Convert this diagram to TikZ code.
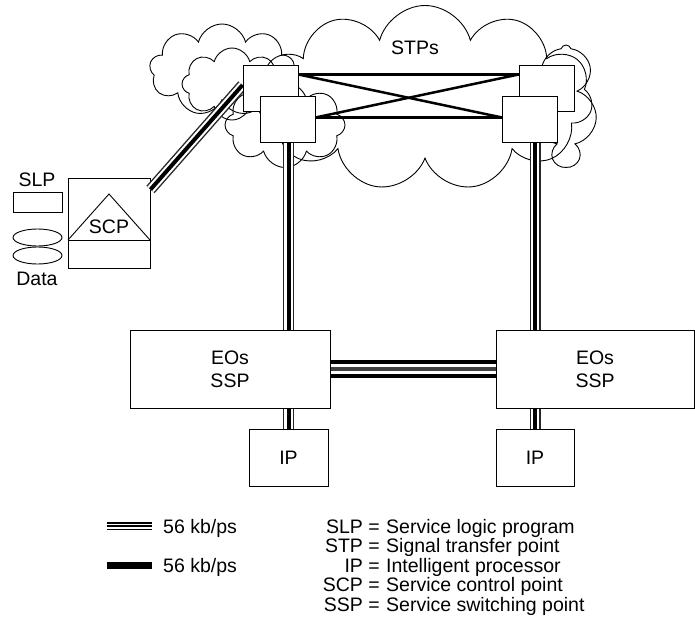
\documentclass[tikz,border=0pt]{standalone}
\usepackage{fontspec}
\setmainfont{Liberation Sans}
\usetikzlibrary{shapes.symbols,shapes.geometric}

\tikzset{
  lbl/.style={inner sep=0pt, font=\fontsize{19.5}{23}\selectfont, align=center},
  box/.style={draw, line width=1pt, fill=white, inner sep=0pt},
  stpbox/.style={box, minimum width=55pt, minimum height=46pt},
  puff/.style={cloud, draw, line width=0.9pt, inner sep=0pt, cloud ignores aspect},
  % signalling link: thin outer rails with a heavy core
  trunk/.style={draw=black!85, line width=11pt,
    postaction={draw=white, line width=8.2pt},
    postaction={draw=black, line width=4pt}},
  % trunk between the two end offices
  eolink/.style={draw=black, line width=18pt,
    postaction={draw=white, line width=9.5pt},
    postaction={draw=black!75, line width=3.5pt}},
  mesh/.style={draw, line width=2.5pt},
}

\begin{document}
\begin{tikzpicture}[x=1pt, y=-1pt]
\useasboundingbox (0,0) rectangle (695,621);

% --- STP cloud, built from overlapping puffs
\node[puff, cloud puffs=11, minimum width=335pt, minimum height=185pt] (cloudMain) at (425,98) {};
\node[puff, cloud puffs=9, minimum width=145pt, minimum height=92pt] (cloudL1) at (222,70) {};
\node[puff, cloud puffs=8, minimum width=100pt, minimum height=72pt] (cloudL2) at (232,84) {};
\node[puff, cloud puffs=8, minimum width=120pt, minimum height=85pt] (cloudL3) at (285,125) {};
\node[puff, cloud puffs=7, minimum width=62pt, minimum height=120pt] (cloudR) at (566,105) {};
\node[lbl] (stps) at (415,48) {STPs};

% --- node positions
\coordinate (pA) at (270.5,88);
\coordinate (pB) at (287.5,119.5);
\coordinate (pC) at (546.5,88);
\coordinate (pD) at (530,119.5);

\node[box, minimum width=200pt, minimum height=78pt, lbl] (eosL) at (230,369) {EOs\\SSP};
\node[box, minimum width=198pt, minimum height=78pt, lbl] (eosR) at (595,369) {EOs\\SSP};
\node[box, minimum width=79pt, minimum height=57pt, lbl] (ipL) at (288.5,458) {IP};
\node[box, minimum width=78pt, minimum height=57pt, lbl] (ipR) at (535,458) {IP};
\node[box, minimum width=82pt, minimum height=90pt] (scp) at (109,223) {};

\node[stpbox] (stpA) at (pA) {};
\node[stpbox] (stpB) at (pB) {};
\node[stpbox] (stpC) at (pC) {};
\node[stpbox] (stpD) at (pD) {};

% --- links, then the STP boxes drawn again on top of them
\path[trunk] ([yshift=-12pt]scp.north east) -- ([yshift=3pt]stpA.west);
\path[trunk] (ipL.north |- stpB.south) -- (ipL.north |- eosL.north);
\path[trunk] (ipL.north |- eosL.south) -- (ipL.north);
\path[trunk] (ipR.north |- stpD.south) -- (ipR.north |- eosR.north);
\path[trunk] (ipR.north |- eosR.south) -- (ipR.north);
\path[eolink] (eosL.east) -- (eosR.west);

\path[mesh] ([yshift=-10pt]stpA.north east) -- ([yshift=-10pt]stpC.north west);
\path[mesh] ([yshift=-10pt]stpA.north east) -- ([yshift=2pt]stpD.west);
\path[mesh] ([yshift=2pt]stpB.east) -- ([yshift=-10pt]stpC.north west);
\path[mesh] ([yshift=2pt]stpB.east) -- ([yshift=2pt]stpD.west);

\node[stpbox] (stpA2) at (pA) {};
\node[stpbox] (stpB2) at (pB) {};
\node[stpbox] (stpC2) at (pC) {};
\node[stpbox] (stpD2) at (pD) {};

% --- SCP with its triangle
\coordinate (scpL) at (68,240);
\coordinate (scpR) at (150,240);
\coordinate (apex) at (109,194);
\draw[line width=1pt] (scpL) -- (scpR);
\draw[line width=0.9pt] (scpL) -- (apex) -- (scpR);
\node[lbl] (scpTxt) at (109,227) {SCP};

% --- SLP and data stores
\node[lbl] (slp) at (37,180) {SLP};
\node[draw, line width=0.9pt, minimum width=49pt, minimum height=20pt, inner sep=0pt] (slpBox) at (37.5,202) {};
\node[ellipse, draw, line width=0.9pt, minimum width=49pt, minimum height=17pt, inner sep=0pt] (db1) at (37.5,237.5) {};
\node[ellipse, draw, line width=0.9pt, minimum width=49pt, minimum height=17pt, inner sep=0pt] (db2) at (37.5,255.5) {};
\node[lbl] (data) at (37,279) {Data};

% --- legend
\coordinate (lgA1) at (107,526);
\coordinate (lgA2) at (152,526);
\coordinate (lgB1) at (107,565);
\coordinate (lgB2) at (152,565);
\path[draw=black, line width=8pt, postaction={draw=white, line width=5pt}, postaction={draw=black, line width=2.5pt}] (lgA1) -- (lgA2);
\draw[line width=7pt] (lgB1) -- (lgB2);
\node[lbl, anchor=base west] (lgAt) at (163,533) {56 kb/ps};
\node[lbl, anchor=base west] (lgBt) at (163,572) {56 kb/ps};

\foreach \ab/\txt/\yy in {SLP/Service logic program/526, STP/Signal transfer point/545.5,
    IP/Intelligent processor/565, SCP/Service control point/584.5, SSP/Service switching point/604} {
  \node[lbl, anchor=base east] at (380,\yy+7) {\ab\ =};
  \node[lbl, anchor=base west] at (386,\yy+7) {\txt};
}
\end{tikzpicture}
\end{document}
